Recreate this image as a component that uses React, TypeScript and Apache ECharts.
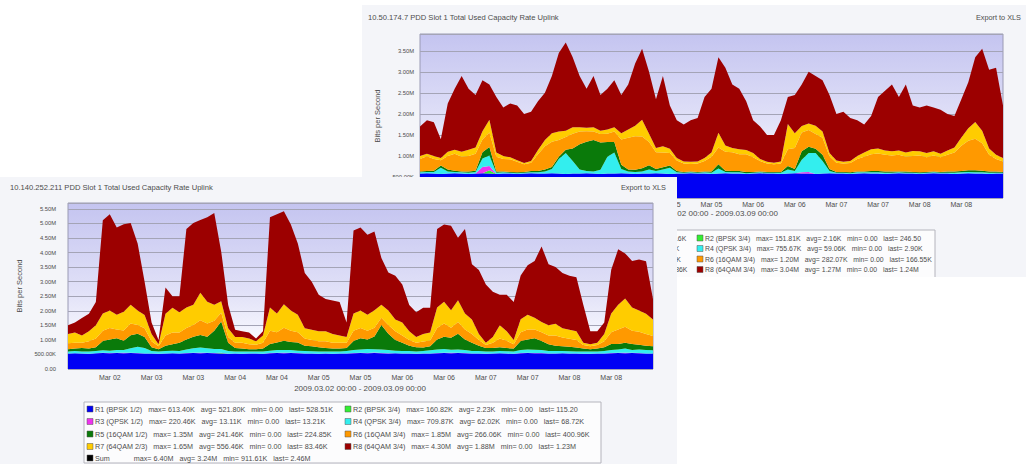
import React, { useEffect, useRef } from "react";
import * as echarts from "echarts";

// ---------- time categories (2-hour steps, 2009-03-02 00:00 .. 2009-03-09 00:00) ----------
const START_UTC = Date.UTC(2009, 2, 2, 0, 0);
const STEP_HOURS = 2;
const POINT_COUNT = 85;
const MONTHS = ["Jan", "Feb", "Mar", "Apr", "May", "Jun", "Jul", "Aug", "Sep", "Oct", "Nov", "Dec"];
function pad(n: number) { return n < 10 ? "0" + n : "" + n; }
const CATEGORIES: string[] = [];
for (let i = 0; i < POINT_COUNT; i++) {
  const d = new Date(START_UTC + i * STEP_HOURS * 3600 * 1000);
  CATEGORIES.push(`${d.getUTCFullYear()}-${pad(d.getUTCMonth() + 1)}-${pad(d.getUTCDate())} ${pad(d.getUTCHours())}:00`);
}
const LABEL_EVERY = 6; // every 12 hours
const RANGE_TEXT = "2009.03.02 00:00 - 2009.03.09 00:00";

const SERIES_NAMES = ["R1 (BPSK 1/2)", "R2 (BPSK 3/4)", "R3 (QPSK 1/2)", "R4 (QPSK 3/4)", "R5 (16QAM 1/2)", "R6 (16QAM 3/4)", "R7 (64QAM 2/3)", "R8 (64QAM 3/4)"];
const SERIES_COLORS = ["#0000f4", "#33ee33", "#ee33ee", "#33eeee", "#0a7a0a", "#ff9900", "#ffcc00", "#9c0000"];

// ---------- front chart (10.140.252.211), values in Mbit/s ----------
const FRONT_R1 = [
  .53, .54, .53, .52, .54, .55, .54, .55, .54, .55,
  .54, .53, .53, .52, .53, .54, .53, .54, .55, .54,
  .55, .54, .53, .52, .53, .52, .53, .53, .52, .54,
  .55, .54, .55, .54, .53, .53, .52, .53, .52, .53,
  .53, .54, .55, .54, .55, .54, .53, .54, .53, .53,
  .52, .53, .53, .54, .55, .54, .55, .54, .53, .53,
  .52, .53, .54, .53, .52, .54, .55, .54, .54, .53,
  .53, .54, .53, .53, .52, .52, .53, .53, .54, .55,
  .54, .55, .54, .53, .53];
const FRONT_R2 = [
  0, 0, 0, 0, 0, 0, 0, 0, 0, 0,
  0, 0, 0, 0, 0, 0, 0, 0, 0, 0,
  0, 0, .02, 0, 0, 0, 0, 0, 0, 0,
  0, 0, 0, 0, 0, 0, 0, 0, 0, 0,
  0, 0, 0, 0, 0, 0, 0, 0, 0, 0,
  0, 0, 0, 0, 0, 0, 0, 0, 0, 0,
  0, 0, 0, 0, 0, 0, 0, 0, 0, 0,
  0, 0, 0, 0, 0, 0, 0, 0, 0, 0,
  0, 0, 0, 0, 0];
const FRONT_R3 = [
  0, 0, 0, 0, 0, .01, .01, .01, .02, .01,
  .01, 0, 0, 0, 0, 0, 0, .01, .01, .02,
  .01, .01, .01, 0, 0, 0, 0, 0, 0, .01,
  .01, .02, .01, .01, 0, 0, 0, 0, 0, 0,
  0, .01, .01, .01, .02, .01, .01, 0, 0, 0,
  0, 0, 0, .01, .01, .02, .01, .01, 0, 0,
  0, 0, 0, 0, 0, .01, .01, .01, .01, 0,
  0, 0, 0, 0, 0, 0, 0, 0, .01, .01,
  .02, .01, .01, 0, 0];
const FRONT_R4 = [
  .07, .08, .07, .08, .08, .08, .08, .09, .09, .15,
  .21, .19, .09, .08, .09, .09, .09, .12, .15, .18,
  .15, .14, .13, .10, .07, .08, .07, .07, .08, .08,
  .09, .09, .09, .08, .09, .08, .08, .07, .08, .07,
  .09, .10, .11, .14, .11, .12, .11, .09, .09, .09,
  .08, .09, .11, .12, .13, .10, .11, .10, .09, .09,
  .08, .07, .08, .08, .08, .10, .11, .11, .10, .09,
  .09, .08, .08, .07, .08, .08, .07, .09, .10, .11,
  .14, .09, .12, .12, .11];
const FRONT_R5 = [
  .08, .08, .12, .10, .13, .32, .38, .41, .32, .45,
  .45, .38, .13, .08, .18, .22, .28, .34, .40, .43,
  .40, .62, .94, .28, .12, .10, .08, .08, .10, .23,
  .26, .32, .28, .28, .18, .17, .15, .12, .10, .10,
  .10, .31, .39, .32, .44, .84, .56, .37, .28, .18,
  .15, .12, .14, .34, .42, .41, .54, .36, .28, .18,
  .12, .12, .13, .11, .10, .31, .34, .40, .31, .23,
  .18, .16, .15, .14, .10, .08, .10, .13, .21, .19,
  .20, .21, .16, .15, .14];
const FRONT_R6 = [
  .20, .20, .18, .25, .30, .35, .40, .30, .35, .40,
  .30, .30, .20, .10, .35, .40, .35, .40, .40, .50,
  .45, .35, .30, .20, .18, .20, .17, .15, .20, .45,
  .35, .45, .38, .35, .25, .22, .20, .23, .20, .20,
  .18, .35, .35, .30, .30, .25, .30, .30, .25, .20,
  .15, .20, .20, .40, .45, .35, .40, .35, .30, .20,
  .10, .18, .30, .25, .15, .30, .35, .30, .30, .30,
  .35, .30, .28, .26, .12, .10, .12, .20, .40, .50,
  .55, .45, .45, .40, .35];
const FRONT_R7 = [
  .32, .35, .25, .35, .45, .60, .60, .50, .65, .65,
  .50, .45, .25, .07, .75, .85, .70, .70, .70, .95,
  .75, .55, .40, .30, .20, .20, .20, .12, .25, .80,
  .65, .80, .70, .60, .35, .35, .35, .35, .30, .25,
  .20, .60, .60, .55, .60, .45, .50, .40, .45, .30,
  .20, .26, .27, .70, .75, .60, .75, .55, .50, .20,
  .08, .20, .45, .33, .15, .45, .50, .40, .35, .35,
  .40, .32, .31, .30, .08, .07, .08, .25, .65, .85,
  .97, .80, .73, .70, .57];
const FRONT_R8 = [
  .30, .35, .60, .60, .80, 3.20, 3.30, 3.00, 3.00, 2.80,
  2.30, 1.15, .40, .15, .90, .40, .55, 2.70, 2.80, 2.50,
  2.90, 3.15, 1.70, .80, .25, .20, .20, .10, .15, 3.10,
  3.40, 3.20, 2.95, 2.45, 1.90, 1.65, 1.25, 1.10, 1.15, 1.15,
  .50, 2.85, 2.85, 2.75, 2.70, 1.60, 1.30, 1.50, 1.30, .90,
  .85, .90, .85, 2.70, 2.65, 2.90, 2.15, 2.90, 1.90, 2.20,
  2.00, 1.55, 1.05, 1.25, 1.30, 1.50, 1.70, 1.95, 2.60, 2.10,
  1.95, 1.90, 1.85, 1.85, 1.30, .45, .40, .40, 1.50, 1.90,
  1.55, 1.60, 1.75, 1.80, .70];

// ---------- back chart (10.50.174.7), values in Mbit/s ----------
const BACK_R1 = [
  .58, .59, .58, .57, .58, .59, .58, .57, .58, .59,
  .58, .57, .58, .58, .57, .58, .59, .58, .58, .59,
  .58, .57, .58, .58, .59, .58, .57, .58, .58, .59,
  .58, .57, .58, .58, .59, .58, .57, .58, .58, .59,
  .58, .58, .57, .58, .59, .58, .58, .57, .58, .59,
  .58, .58, .57, .58, .59, .58, .58, .57, .58, .59,
  .58, .58, .57, .58, .59, .58, .58, .57, .58, .59,
  .58, .58, .57, .58, .59, .58, .58, .57, .58, .59,
  .58, .58, .57, .58, .58];
const BACK_R2 = [
  0, 0, 0, 0, 0, 0, 0, 0, 0, 0,
  .08, 0, 0, 0, 0, 0, 0, 0, 0, 0,
  0, 0, 0, 0, 0, 0, 0, 0, 0, 0,
  0, 0, 0, 0, 0, 0, 0, 0, 0, 0,
  0, 0, 0, 0, 0, 0, 0, 0, 0, 0,
  0, 0, 0, 0, 0, 0, 0, 0, 0, 0,
  0, 0, 0, 0, 0, 0, 0, 0, 0, 0,
  0, 0, 0, 0, 0, 0, 0, 0, 0, 0,
  0, 0, 0, 0, 0];
const BACK_R3 = [
  0, 0, 0, 0, 0, 0, 0, 0, 0, .15,
  .10, 0, 0, 0, 0, 0, 0, 0, 0, 0,
  0, 0, 0, 0, 0, 0, 0, 0, 0, 0,
  0, 0, 0, 0, 0, 0, 0, 0, 0, 0,
  0, 0, 0, 0, 0, 0, 0, 0, 0, 0,
  0, 0, 0, 0, 0, .03, .04, 0, 0, 0,
  0, 0, 0, 0, 0, 0, 0, 0, 0, 0,
  0, 0, 0, 0, 0, 0, 0, 0, 0, 0,
  0, 0, 0, 0, 0];
const BACK_R4 = [
  .03, .03, .04, .15, .05, .03, .03, .03, .04, .20,
  .25, .03, .03, .02, .02, .02, .02, .03, .05, .10,
  .35, .50, .30, .10, .05, .05, .10, .40, .50, .10,
  .05, .05, .05, .10, .05, .10, .15, .03, .02, .02,
  .02, .03, .03, .12, .03, .03, .03, .02, .02, .02,
  .02, .02, .03, .10, .05, .30, .45, .50, .30, .05,
  .02, .02, .02, .03, .02, .03, .03, .03, .02, .02,
  .02, .02, .02, .02, .02, .02, .02, .03, .03, .03,
  .03, .03, .03, .02, .02];
const BACK_R5 = [
  .02, .02, .03, .05, .05, .03, .02, .03, .03, .15,
  .20, .03, .02, .02, .02, .02, .03, .03, .05, .05,
  .05, .08, .30, .60, .70, .75, .65, .35, .25, .10,
  .05, .05, .08, .10, .05, .05, .05, .03, .02, .02,
  .02, .02, .03, .10, .03, .03, .03, .03, .02, .02,
  .02, .02, .02, .08, .05, .20, .15, .10, .15, .05,
  .02, .02, .02, .02, .02, .03, .03, .03, .03, .02,
  .03, .02, .02, .02, .02, .02, .03, .03, .03, .04,
  .05, .04, .03, .03, .02];
const BACK_R6 = [
  .30, .35, .28, .13, .32, .40, .35, .37, .40, .30,
  .35, .35, .30, .30, .25, .18, .20, .40, .55, .60,
  .40, .30, .35, .30, .25, .20, .20, .20, .25, .60,
  .75, .80, .75, .55, .40, .35, .30, .25, .20, .18,
  .20, .25, .35, .40, .45, .45, .40, .42, .35, .25,
  .20, .18, .20, .40, .50, .45, .40, .35, .40, .30,
  .22, .20, .22, .30, .35, .40, .42, .40, .38, .40,
  .35, .38, .40, .35, .38, .35, .40, .45, .60, .70,
  .75, .65, .40, .30, .25];
const BACK_R7 = [
  .07, .06, .07, .05, .10, .10, .12, .15, .15, .20,
  .30, .10, .07, .05, .04, .03, .04, .10, .15, .20,
  .20, .15, .15, .10, .08, .10, .08, .10, .10, .15,
  .20, .25, .40, .20, .10, .15, .10, .06, .05, .05,
  .05, .07, .10, .35, .15, .10, .12, .10, .10, .05,
  .04, .04, .05, .60, .35, .15, .15, .20, .15, .08,
  .05, .04, .05, .07, .10, .12, .12, .10, .10, .10,
  .10, .12, .10, .10, .10, .08, .10, .12, .20, .30,
  .40, .30, .15, .10, .08];
const BACK_R8 = [
  .70, .80, .80, .45, 1.15, 1.45, 1.80, 1.45, 1.25, 1.21,
  .84, 1.32, 1.15, 1.28, 1.30, 1.17, 1.17, 1.16, 1.12, 1.36,
  1.87, 2.10, 1.67, 1.22, .93, 1.22, .85, .97, 1.12, .91,
  1.07, 1.48, 1.69, 1.47, 1.16, 1.67, 1.03, .90, .88, .99,
  1.03, 1.45, 1.52, 1.80, 1.85, 1.51, 1.44, 1.16, .78, .77,
  .64, .66, .98, .64, .91, .99, 1.23, 1.18, 1.22, 1.38,
  1.11, 1.19, 1.02, .85, .67, .79, 1.22, 1.42, 1.59, 1.27,
  1.62, 1.08, 1.04, 1.13, 1.04, 1.05, .87, .75, .91, 1.09,
  1.54, 1.95, 1.87, 2.07, 1.25];

// ---------- legend statistics: [name, max, avg, min, last] ----------
const FRONT_LEGEND_LEFT = [
  ["R1 (BPSK 1/2)", "613.40K", "521.80K", "0.00", "528.51K"],
  ["R3 (QPSK 1/2)", "220.46K", "13.11K", "0.00", "13.21K"],
  ["R5 (16QAM 1/2)", "1.35M", "241.46K", "0.00", "224.85K"],
  ["R7 (64QAM 2/3)", "1.65M", "556.46K", "0.00", "83.46K"],
  ["Sum", "6.40M", "3.24M", "911.61K", "2.46M"],
];
const FRONT_LEGEND_RIGHT = [
  ["R2 (BPSK 3/4)", "160.82K", "2.23K", "0.00", "115.20"],
  ["R4 (QPSK 3/4)", "709.87K", "62.02K", "0.00", "68.72K"],
  ["R6 (16QAM 3/4)", "1.85M", "266.06K", "0.00", "400.96K"],
  ["R8 (64QAM 3/4)", "4.30M", "1.88M", "0.00", "1.23M"],
];
const BACK_LEGEND_LEFT = [
  ["R1 (BPSK 1/2)", "640.24K", "575.92K", "0.00", "581.16K"],
  ["R3 (QPSK 1/2)", "245.13K", "12.48K", "0.00", "10.90K"],
  ["R5 (16QAM 1/2)", "1.02M", "166.37K", "0.00", "21.48K"],
  ["R7 (64QAM 2/3)", "732.10K", "131.55K", "0.00", "78.86K"],
];
const BACK_LEGEND_RIGHT = [
  ["R2 (BPSK 3/4)", "151.81K", "2.16K", "0.00", "246.50"],
  ["R4 (QPSK 3/4)", "755.67K", "59.06K", "0.00", "2.90K"],
  ["R6 (16QAM 3/4)", "1.20M", "282.07K", "0.00", "166.55K"],
  ["R8 (64QAM 3/4)", "3.04M", "1.27M", "0.00", "1.24M"],
];
const LEFT_COLORS = ["#0000f4", "#ee33ee", "#0a7a0a", "#ffcc00", "#000000"];
const RIGHT_COLORS = ["#33ee33", "#33eeee", "#ff9900", "#9c0000"];

const FONT = '"Liberation Sans", Arial, sans-serif';
const TXT = "#4c4c4c";
const NB = "\u00a0";

function legendLine(r: string[]) {
  const gap = NB + NB + NB;
  const head = r[0] === "Sum" ? r[0] + NB.repeat(9) : r[0];
  return `${head}${gap}max=${NB}${r[1]}${gap}avg=${NB}${r[2]}${gap}min=${NB}${r[3]}${gap}last=${NB}${r[4]}`;
}

function fmtAxis(v: number) {
  if (v === 0) return "0.00";
  if (v < 1) return (v * 1000).toFixed(2) + "K";
  return v.toFixed(2) + "M";
}

function fmtCat(val: string) {
  const m = parseInt(val.slice(5, 7), 10);
  return MONTHS[m - 1] + " " + val.slice(8, 10);
}

type Cfg = {
  title: string;
  grid: { left: number; right: number; top: number; bottom: number };
  yMax: number;
  yNameGap: number;
  yLabelMargin: number;
  xLabelMargin: number;
  data: number[][];
  titlePos: [number, number];
  exportPos: [number, number];
  rangePos: [number, number];
  legendBox: [number, number, number, number];
  rowYs: number[];
  leftSquareX: number;
  rightSquareX: number;
  legendLeft: string[][];
  legendRight: string[][];
  legendFont: number;
};

function buildOption(c: Cfg) {
  const graphics: any[] = [
    { type: "text", x: c.titlePos[0], y: c.titlePos[1], style: { text: c.title, fontSize: 7.6, fontFamily: FONT, fill: TXT, verticalAlign: "middle" } },
    { type: "text", x: c.exportPos[0], y: c.exportPos[1], style: { text: "Export to XLS", fontSize: 7.3, fontFamily: FONT, fill: TXT, align: "right", verticalAlign: "middle" } },
    { type: "text", x: c.rangePos[0], y: c.rangePos[1], style: { text: RANGE_TEXT, fontSize: 8, fontFamily: FONT, fill: TXT, align: "center", verticalAlign: "middle" } },
    { type: "rect", shape: { x: c.legendBox[0], y: c.legendBox[1], width: c.legendBox[2], height: c.legendBox[3] }, style: { fill: "#fcfcfd", stroke: "#b4b4bc", lineWidth: 1 } },
  ];
  c.legendLeft.forEach((r, k) => {
    graphics.push({ type: "rect", shape: { x: c.leftSquareX, y: c.rowYs[k] - 3, width: 6, height: 6 }, style: { fill: LEFT_COLORS[k], stroke: "#555", lineWidth: 0.5 } });
    graphics.push({ type: "text", x: c.leftSquareX + 8, y: c.rowYs[k], style: { text: legendLine(r), fontSize: c.legendFont, fontFamily: FONT, fill: TXT, verticalAlign: "middle" } });
  });
  c.legendRight.forEach((r, k) => {
    graphics.push({ type: "rect", shape: { x: c.rightSquareX, y: c.rowYs[k] - 3, width: 6, height: 6 }, style: { fill: RIGHT_COLORS[k], stroke: "#555", lineWidth: 0.5 } });
    graphics.push({ type: "text", x: c.rightSquareX + 8, y: c.rowYs[k], style: { text: legendLine(r), fontSize: c.legendFont, fontFamily: FONT, fill: TXT, verticalAlign: "middle" } });
  });

  return {
    animation: false,
    textStyle: { fontFamily: FONT },
    grid: {
      ...c.grid,
      show: true,
      backgroundColor: new echarts.graphic.LinearGradient(0, 0, 0, 1, [
        { offset: 0, color: "#c4c4f0" },
        { offset: 0.55, color: "#e2e2f8" },
        { offset: 0.85, color: "#fbfbff" },
        { offset: 1, color: "#ffffff" },
      ]),
      borderColor: "#9a9ab4",
      borderWidth: 1,
    },
    xAxis: {
      type: "category",
      data: CATEGORIES,
      boundaryGap: false,
      axisLine: { show: false },
      axisTick: { show: false },
      splitLine: { show: false },
      axisLabel: {
        interval: (idx: number) => idx > 0 && idx < POINT_COUNT - 1 && idx % LABEL_EVERY === 0,
        formatter: (v: string) => fmtCat(v),
        fontSize: 7,
        color: TXT,
        margin: c.xLabelMargin,
      },
    },
    yAxis: {
      type: "value",
      min: 0,
      max: c.yMax,
      interval: 0.5,
      name: "Bits per Second",
      nameLocation: "middle",
      nameGap: c.yNameGap,
      nameRotate: 90,
      nameTextStyle: { fontSize: 7.5, color: TXT },
      axisLine: { show: false },
      axisTick: { show: false },
      axisLabel: { formatter: fmtAxis, fontSize: 5.8, color: TXT, margin: c.yLabelMargin, showMaxLabel: false },
      splitLine: { show: true, lineStyle: { color: "#a4a4b6", width: 1 } },
    },
    series: SERIES_NAMES.map((name, k) => ({
      name,
      type: "line",
      stack: "total",
      data: c.data[k],
      symbol: "none",
      showSymbol: false,
      silent: true,
      lineStyle: { width: 0, color: SERIES_COLORS[k] },
      itemStyle: { color: SERIES_COLORS[k] },
      areaStyle: { color: SERIES_COLORS[k], opacity: 1 },
    })),
    graphic: graphics,
  };
}

const FRONT_CFG: Cfg = {
  title: "10.140.252.211 PDD Slot 1 Total Used Capacity Rate Uplink",
  grid: { left: 68, right: 24, top: 26, bottom: 95 },
  yMax: 5.7,
  yNameGap: 37,
  yLabelMargin: 12,
  xLabelMargin: 5,
  data: [FRONT_R1, FRONT_R2, FRONT_R3, FRONT_R4, FRONT_R5, FRONT_R6, FRONT_R7, FRONT_R8],
  titlePos: [10, 10],
  exportPos: [666, 10],
  rangePos: [360, 211],
  legendBox: [84, 225, 517, 61],
  rowYs: [232, 244.5, 257, 269.5, 281],
  leftSquareX: 87,
  rightSquareX: 345,
  legendLeft: FRONT_LEGEND_LEFT,
  legendRight: FRONT_LEGEND_RIGHT,
  legendFont: 7.2,
};

const BACK_CFG: Cfg = {
  title: "10.50.174.7 PDD Slot 1 Total Used Capacity Rate Uplink",
  grid: { left: 58, right: 23, top: 29, bottom: 79 },
  yMax: 3.9,
  yNameGap: 38,
  yLabelMargin: 6,
  xLabelMargin: 3,
  data: [BACK_R1, BACK_R2, BACK_R3, BACK_R4, BACK_R5, BACK_R6, BACK_R7, BACK_R8],
  titlePos: [6, 12],
  exportPos: [659, 12],
  rangePos: [350, 208],
  legendBox: [78, 225, 495, 70],
  rowYs: [233, 243.5, 254, 264.5],
  leftSquareX: 88,
  rightSquareX: 335,
  legendLeft: BACK_LEGEND_LEFT,
  legendRight: BACK_LEGEND_RIGHT,
  legendFont: 6.9,
};

export default function App() {
  const backRef = useRef<HTMLDivElement>(null);
  const frontRef = useRef<HTMLDivElement>(null);

  useEffect(() => {
    const back = echarts.init(backRef.current!, undefined, { renderer: "svg" });
    back.setOption(buildOption(BACK_CFG) as any);
    const front = echarts.init(frontRef.current!, undefined, { renderer: "svg" });
    front.setOption(buildOption(FRONT_CFG) as any);
    return () => {
      back.dispose();
      front.dispose();
    };
  }, []);

  return (
    <div style={{ position: "absolute", left: 0, top: 0, width: 1026, height: 464, background: "#ffffff", overflow: "hidden" }}>
      <div ref={backRef} style={{ position: "absolute", left: 362, top: 5, width: 664, height: 272, background: "#f4f5f9" }} />
      <div ref={frontRef} style={{ position: "absolute", left: 0, top: 177, width: 677, height: 287, background: "#f4f5f9" }} />
    </div>
  );
}
